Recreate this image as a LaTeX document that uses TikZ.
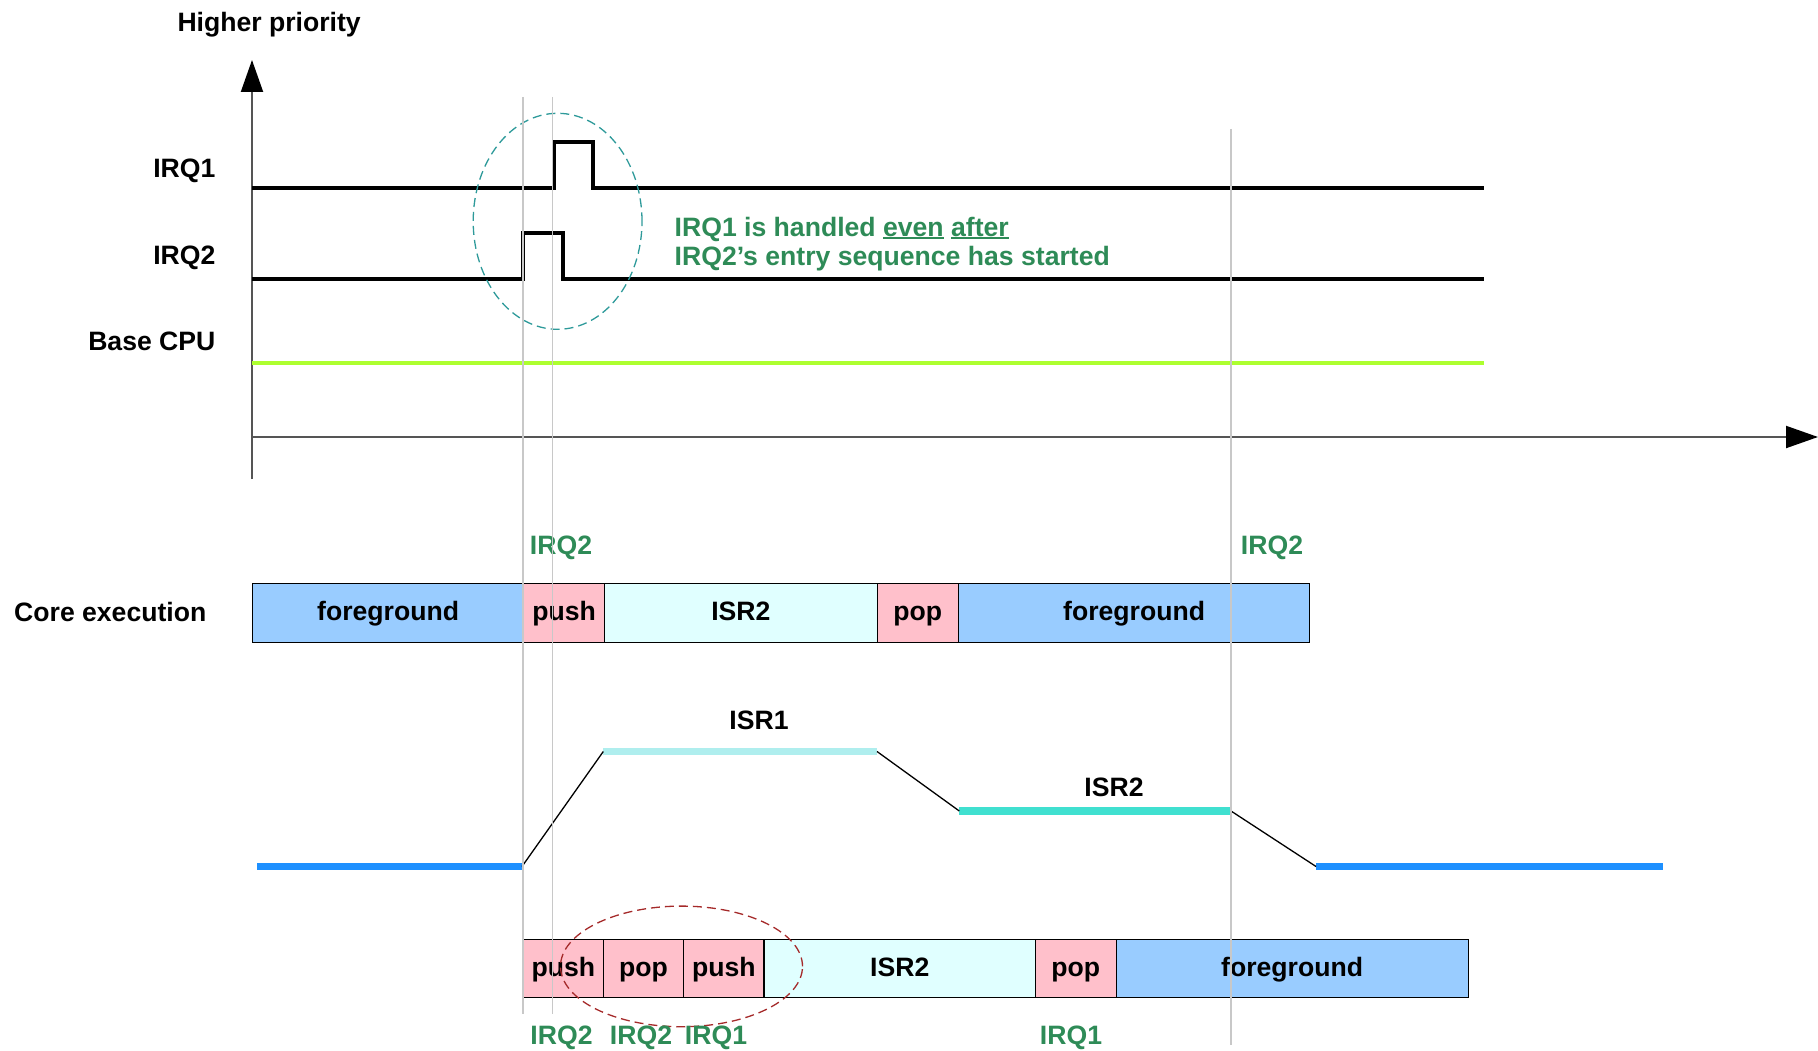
\documentclass[tikz,border=0pt]{standalone}
\usepackage{fontspec}
\setmainfont{Liberation Sans}
\usetikzlibrary{arrows.meta}
\definecolor{fgblue}{HTML}{99CCFF}
\definecolor{pppink}{HTML}{FFC0CB}
\definecolor{isrcyan}{HTML}{E0FFFF}
\definecolor{sgreen}{HTML}{2E8B57}
\definecolor{limeline}{HTML}{ADFF2F}
\definecolor{dblue}{HTML}{1E90FF}
\definecolor{pturq}{HTML}{AFEEEE}
\definecolor{turq}{HTML}{40E0D0}
\definecolor{guide}{HTML}{C8C8C8}
\definecolor{ellteal}{HTML}{2E9A9A}
\definecolor{ellred}{HTML}{A52A2A}
\definecolor{axisgray}{HTML}{555555}
\newcommand{\myul}[1]{\setbox0\hbox{#1}\rlap{\rule[-3pt]{\wd0}{2pt}}\box0\relax}
\begin{document}
\begin{tikzpicture}[x=1pt,y=-1pt,
  every node/.style={font=\fontsize{26.6}{30}\selectfont\bfseries, inner sep=0pt},
  glbl/.style={text=sgreen},
  box/.style={draw=black, line width=1.2pt, anchor=north west, text height=15.5pt, text depth=0pt},
  fgbox/.style={box, fill=fgblue},
  ppbox/.style={box, fill=pppink},
  isrbox/.style={box, fill=isrcyan},
  rowa/.style={minimum height=59pt},
  rowb/.style={minimum height=58pt},
  axis/.style={axisgray, line width=2pt, -{Triangle[length=32pt,width=22pt,color=black]}},
  sig/.style={black, line width=4pt},
  guideline/.style={guide, line width=1.5pt},
  level/.style={line width=7.5pt},
  link/.style={black, line width=1.3pt},
  ell/.style={line width=1.3pt, dash pattern=on 9pt off 5pt}
]
\useasboundingbox (0,0) rectangle (1818,1051);

% axes
\coordinate (ybot) at (252,479);
\coordinate (ytop) at (252,60);
\coordinate (xl) at (252,437);
\coordinate (xr) at (1818,437);
\draw[axis] (ybot) -- (ytop);
\draw[axis] (xl) -- (xr);
\node[anchor=base east] (hp) at (361,32) {Higher priority};

% signal labels
\node[anchor=base east] (lirq1) at (215.6,178) {IRQ1};
\node[anchor=base east] (lirq2) at (215.6,264) {IRQ2};
\node[anchor=base east] (lbase) at (215.6,350) {Base CPU};

% signals
\coordinate (i1a) at (252,188.5);
\coordinate (i1b) at (1484,188.5);
\coordinate (i2a) at (252,279);
\coordinate (i2b) at (1484,279);
\coordinate (bca) at (252,362.5);
\coordinate (bcb) at (1484,362.5);
\draw[sig] (i1a) -- (553.6,188.5) |- (593,142.3) |- (i1b);
\draw[sig] (i2a) -- (522.8,279) |- (562.5,233.3) |- (i2b);
\draw[limeline, line width=4pt] (bca) -- (bcb);

% note
\node[glbl, anchor=base west] (note1) at (674.5,236.5) {IRQ1 is handled \myul{even} \myul{after}};
\node[glbl, anchor=base west] (note2) at (674.5,265.5) {IRQ2’s entry sequence has started};
\draw[ellteal, ell] (557.6,221.3) ellipse [x radius=84.4pt, y radius=108pt];

% core execution row
\node[anchor=base west] (lcore) at (14,621.7) {Core execution};
\node[fgbox, rowa, minimum width=271pt] (t1) at (252,583) {foreground};
\node[ppbox, rowa, minimum width=81pt] (t2) at (523,583) {push};
\node[isrbox, rowa, minimum width=272.5pt] (t3) at (604,583) {ISR2};
\node[ppbox, rowa, minimum width=81.5pt] (t4) at (876.5,583) {pop};
\node[fgbox, rowa, minimum width=351pt] (t5) at (958,583) {foreground};
\node[glbl, anchor=base] (ta) at (561,554) {IRQ2};
\node[glbl, anchor=base] (tb) at (1272,554) {IRQ2};

% priority levels
\coordinate (b1a) at (257.4,866.5);
\coordinate (b1b) at (522,866.5);
\coordinate (s1a) at (603.3,751.5);
\coordinate (s1b) at (877,751.5);
\coordinate (s2a) at (959.3,811);
\coordinate (s2b) at (1231,811);
\coordinate (b2a) at (1316,866.5);
\coordinate (b2b) at (1662.8,866.5);
\draw[level, dblue] (b1a) -- (b1b);
\draw[level, pturq] (s1a) -- (s1b);
\draw[level, turq] (s2a) -- (s2b);
\draw[level, dblue] (b2a) -- (b2b);
\draw[link] (b1b) -- (s1a);
\draw[link] (s1b) -- (s2a);
\draw[link] (s2b) -- (b2a);
\node[anchor=base] (isr1) at (759,729) {ISR1};
\node[anchor=base] (isr2) at (1114,796) {ISR2};

% tail-chained row
\node[ppbox, rowb, minimum width=80.5pt] (u1) at (522.5,939) {push};
\node[ppbox, rowb, minimum width=80pt] (u2) at (603,939) {pop};
\node[ppbox, rowb, minimum width=80.4pt] (u3) at (683,939) {push};
\node[isrbox, rowb, minimum width=271.6pt] (u4) at (763.4,939) {ISR2};
\node[ppbox, rowb, minimum width=80.5pt] (u5) at (1035,939) {pop};
\node[fgbox, rowb, minimum width=352pt] (u6) at (1115.5,939) {foreground};
\draw[ellred, ell] (681.5,966.4) ellipse [x radius=121pt, y radius=60.3pt];
\node[glbl, anchor=base] (ua) at (561.5,1044) {IRQ2};
\node[glbl, anchor=base] (ub) at (641,1044) {IRQ2};
\node[glbl, anchor=base] (uc) at (716,1044) {IRQ1};
\node[glbl, anchor=base] (ud) at (1071,1044) {IRQ1};

% guides
\coordinate (g1t) at (523,97);
\coordinate (g1b) at (523,1014);
\coordinate (g2t) at (552.7,97);
\coordinate (g2b) at (552.7,1014);
\coordinate (g3t) at (1231,129);
\coordinate (g3b) at (1231,1045);
\draw[guideline] (g1t) -- (g1b);
\draw[guideline] (g2t) -- (g2b);
\draw[guideline] (g3t) -- (g3b);
\end{tikzpicture}
\end{document}
